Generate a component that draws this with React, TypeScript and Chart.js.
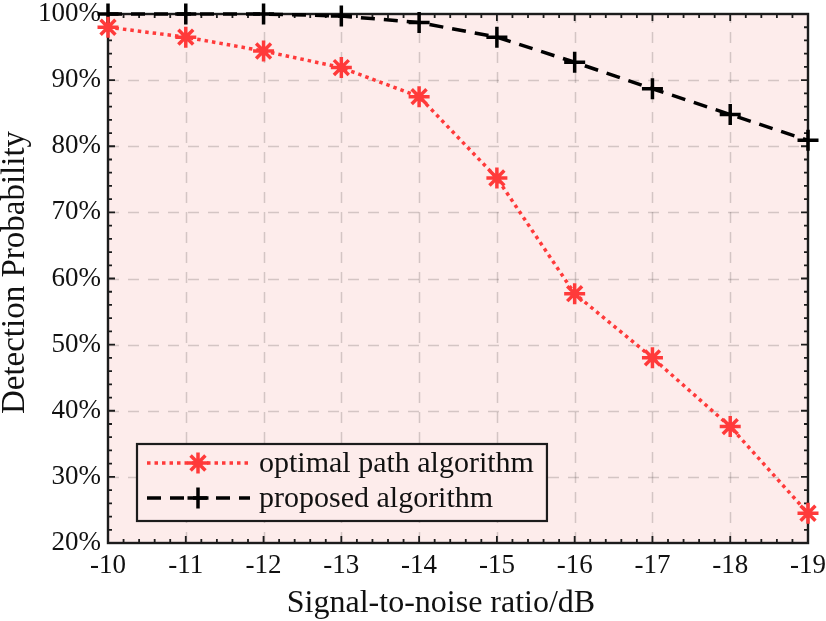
import React, { useEffect, useRef } from "react";
import { Chart, registerables } from "chart.js";

Chart.register(...registerables);

// ---- data ----
const snrDb = [-10, -11, -12, -13, -14, -15, -16, -17, -18, -19];
const optimalPath = [98.0, 96.5, 94.4, 91.9, 87.5, 75.2, 57.7, 48.0, 37.6, 24.5];
const proposed = [100, 100, 100, 99.7, 98.7, 96.5, 92.7, 88.7, 84.8, 80.9];
const seriesLabels = ["optimal path algorithm", "proposed algorithm"];
const xTitle = "Signal-to-noise ratio/dB";
const yTitle = "Detection Probability";
const yMin = 20;
const yMax = 100;
const xMin = -19;
const xMax = -10;

// ---- styles ----
const FONT = '"Liberation Serif", "Times New Roman", serif';
const RED = "#ff3a3a";
const BLACK = "#000000";
const PINK = "#fdeceb";
const GRID = "rgba(70,60,60,0.22)";
const FRAME = "#1c1c1c";

const backgroundPlugin = {
  id: "bgPink",
  beforeDraw(chart: any) {
    const { ctx, chartArea: a } = chart;
    ctx.save();
    ctx.fillStyle = "#ffffff";
    ctx.fillRect(0, 0, chart.width, chart.height);
    ctx.fillStyle = PINK;
    ctx.fillRect(a.left, a.top, a.right - a.left, a.bottom - a.top);
    ctx.restore();
  },
};

const gridFramePlugin = {
  id: "gridFrame",
  beforeDatasetsDraw(chart: any) {
    const { ctx, chartArea: a } = chart;
    const xs = chart.scales.x;
    const ys = chart.scales.y;
    ctx.save();
    ctx.strokeStyle = GRID;
    ctx.lineWidth = 1.5;
    ctx.setLineDash([11, 9]);
    for (let v = xMin + 1; v < xMax; v++) {
      const px = Math.round(xs.getPixelForValue(v)) + 0.5;
      ctx.beginPath();
      ctx.moveTo(px, a.bottom);
      ctx.lineTo(px, a.top);
      ctx.stroke();
    }
    for (let v = yMin + 10; v < yMax; v += 10) {
      const py = Math.round(ys.getPixelForValue(v)) + 0.5;
      ctx.beginPath();
      ctx.moveTo(a.left, py);
      ctx.lineTo(a.right, py);
      ctx.stroke();
    }
    ctx.setLineDash([]);
    ctx.strokeStyle = FRAME;
    ctx.lineWidth = 1.8;
    const major = 7;
    const minor = 4;
    for (let i = 0; i <= (xMax - xMin) * 5; i++) {
      const v = xMin + i * 0.2;
      const len = i % 5 === 0 ? major : minor;
      const px = xs.getPixelForValue(v);
      ctx.beginPath();
      ctx.moveTo(px, a.bottom);
      ctx.lineTo(px, a.bottom - len);
      ctx.moveTo(px, a.top);
      ctx.lineTo(px, a.top + len);
      ctx.stroke();
    }
    for (let i = 0; i <= (yMax - yMin) / 2; i++) {
      const v = yMin + i * 2;
      const len = i % 5 === 0 ? major : minor;
      const py = ys.getPixelForValue(v);
      ctx.beginPath();
      ctx.moveTo(a.left, py);
      ctx.lineTo(a.left + len, py);
      ctx.moveTo(a.right, py);
      ctx.lineTo(a.right - len, py);
      ctx.stroke();
    }
    ctx.lineWidth = 2.4;
    ctx.strokeRect(a.left, a.top, a.right - a.left, a.bottom - a.top);
    ctx.restore();
  },
};

function drawMarker(ctx: CanvasRenderingContext2D, style: string, x: number, y: number, r: number) {
  ctx.beginPath();
  ctx.moveTo(x - r, y);
  ctx.lineTo(x + r, y);
  ctx.moveTo(x, y - r);
  ctx.lineTo(x, y + r);
  if (style === "star") {
    const d = r * Math.SQRT1_2;
    ctx.moveTo(x - d, y - d);
    ctx.lineTo(x + d, y + d);
    ctx.moveTo(x - d, y + d);
    ctx.lineTo(x + d, y - d);
  }
  ctx.stroke();
}

const legendTitlePlugin = {
  id: "legendTitles",
  afterDraw(chart: any) {
    const { ctx, chartArea: a } = chart;
    ctx.save();
    ctx.font = `30px ${FONT}`;
    const textW = Math.max(...seriesLabels.map((t) => ctx.measureText(t).width));
    const bx = a.left + 29;
    const by = a.bottom - 99;
    const textX = bx + 122;
    const bw = textX + textW + 13 - bx;
    const bh = 77;
    ctx.fillStyle = PINK;
    ctx.fillRect(bx, by, bw, bh);
    ctx.strokeStyle = FRAME;
    ctx.lineWidth = 2.2;
    ctx.strokeRect(bx, by, bw, bh);
    chart.data.datasets.forEach((ds: any, i: number) => {
      const ry = by + 19 + i * 35;
      ctx.save();
      ctx.strokeStyle = ds.borderColor;
      ctx.lineWidth = ds.borderWidth;
      ctx.setLineDash(ds.borderDash || []);
      ctx.beginPath();
      ctx.moveTo(bx + 10, ry);
      ctx.lineTo(bx + 113, ry);
      ctx.stroke();
      ctx.setLineDash([]);
      ctx.lineWidth = ds.pointBorderWidth;
      ctx.strokeStyle = ds.pointBorderColor;
      drawMarker(ctx, ds.pointStyle, bx + 61, ry, ds.pointRadius);
      ctx.restore();
      ctx.fillStyle = "#111";
      ctx.textAlign = "left";
      ctx.textBaseline = "middle";
      ctx.fillText(ds.label, textX, ry + 1);
    });
    ctx.fillStyle = "#111";
    ctx.font = `32px ${FONT}`;
    ctx.textAlign = "center";
    ctx.textBaseline = "alphabetic";
    ctx.fillText(xTitle, (a.left + a.right) / 2 - 17, chart.height - 9);
    ctx.save();
    ctx.font = `33px ${FONT}`;
    ctx.translate(24, (a.top + a.bottom) / 2 - 6);
    ctx.rotate(-Math.PI / 2);
    ctx.fillText(yTitle, 0, 0);
    ctx.restore();
    ctx.restore();
  },
};

export default function App() {
  const ref = useRef<HTMLCanvasElement | null>(null);
  useEffect(() => {
    document.body.style.margin = "0";
    document.body.style.overflow = "hidden";
    const canvas = ref.current;
    if (!canvas) return;
    const chart = new Chart(canvas, {
      type: "line",
      data: {
        datasets: [
          {
            label: seriesLabels[0],
            data: snrDb.map((x, i) => ({ x, y: optimalPath[i] })),
            borderColor: RED,
            backgroundColor: RED,
            borderWidth: 3.5,
            borderDash: [3.5, 4],
            pointStyle: "star",
            pointRadius: 10.5,
            pointBorderWidth: 3.5,
            pointBorderColor: RED,
            pointBackgroundColor: RED,
            tension: 0,
            clip: false,
          } as any,
          {
            label: seriesLabels[1],
            data: snrDb.map((x, i) => ({ x, y: proposed[i] })),
            borderColor: BLACK,
            backgroundColor: BLACK,
            borderWidth: 3.5,
            borderDash: [14, 9],
            pointStyle: "cross",
            pointRadius: 10.5,
            pointBorderWidth: 3.5,
            pointBorderColor: BLACK,
            pointBackgroundColor: BLACK,
            tension: 0,
            clip: false,
          } as any,
        ],
      },
      options: {
        responsive: false,
        animation: false,
        events: [],
        layout: { padding: { top: 10, right: 18, left: 0, bottom: 0 } },
        plugins: { legend: { display: false }, tooltip: { enabled: false } },
        scales: {
          x: {
            type: "linear",
            reverse: true,
            min: xMin,
            max: xMax,
            ticks: {
              stepSize: 1,
              font: { family: FONT, size: 27 },
              color: "#111",
              padding: 7,
              maxRotation: 0,
              callback: (v: any) => String(v),
            },
            grid: { display: false, drawTicks: false },
            border: { display: false },
            afterFit: (s: any) => {
              s.height = 78;
              s.paddingLeft = 0;
              s.paddingRight = 0;
            },
          },
          y: {
            min: yMin,
            max: yMax,
            ticks: {
              stepSize: 10,
              font: { family: FONT, size: 27 },
              color: "#111",
              padding: 7,
              callback: (v: any) => `${v}%`,
            },
            grid: { display: false, drawTicks: false },
            border: { display: false },
            afterFit: (s: any) => {
              s.width = 108;
              s.paddingTop = 0;
              s.paddingBottom = 0;
            },
          },
        },
      },
      plugins: [backgroundPlugin, gridFramePlugin, legendTitlePlugin],
    });
    return () => chart.destroy();
  }, []);
  return (
    <div style={{ width: 826, height: 621 }}>
      <canvas ref={ref} width={826} height={621} style={{ display: "block", width: 826, height: 621 }} />
    </div>
  );
}
